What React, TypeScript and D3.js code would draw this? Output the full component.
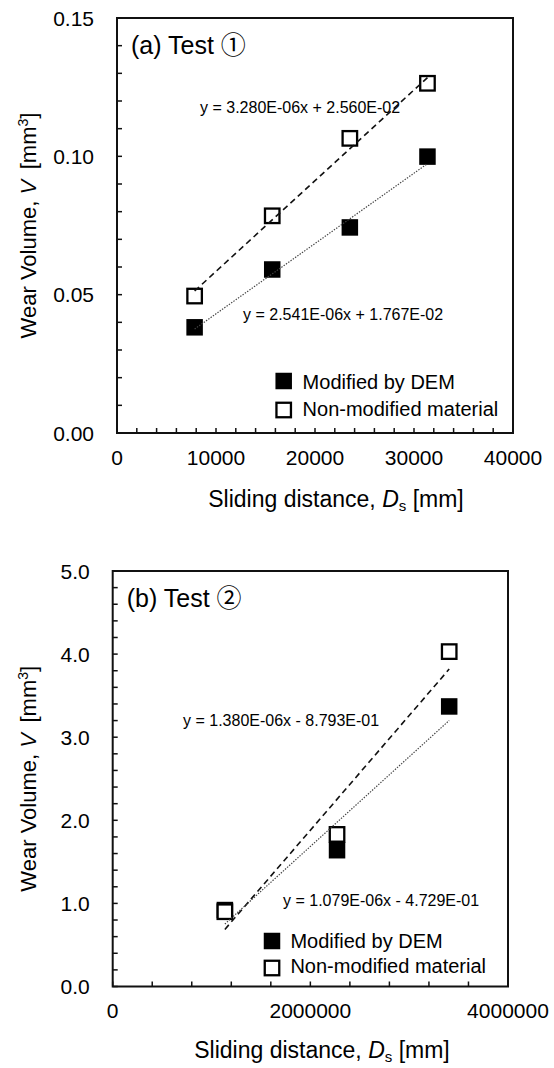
import React from 'react';
import * as d3 from 'd3';

// ---------- data ----------
const seriesNames = ['Modified by DEM', 'Non-modified material'];

// Panel (a) Test ①
const distanceA = [7840, 15680, 23520, 31360];
const modifiedA = [0.0382, 0.0591, 0.0743, 0.0999];
const nonModifiedA = [0.0495, 0.0785, 0.1065, 0.1264];
const fitModifiedA = [2.541e-6, 1.767e-2];
const fitNonModifiedA = [3.28e-6, 2.56e-2];
const eqModifiedA = 'y = 2.541E-06x + 1.767E-02';
const eqNonModifiedA = 'y = 3.280E-06x + 2.560E-02';
const xTicksA = [0, 10000, 20000, 30000, 40000];
const yTicksA = [0, 0.05, 0.1, 0.15];

// Panel (b) Test ②
const distanceB = [1135000, 2270000, 3405000];
const modifiedB = [0.92, 1.64, 3.37];
const nonModifiedB = [0.9, 1.83, 4.03];
const fitModifiedB = [1.079e-6, -4.729e-1];
const fitNonModifiedB = [1.38e-6, -8.793e-1];
const eqModifiedB = 'y = 1.079E-06x - 4.729E-01';
const eqNonModifiedB = 'y = 1.380E-06x - 8.793E-01';
const xTicksB = [0, 2000000, 4000000];
const yTicksB = [0, 1, 2, 3, 4, 5];

const FONT = "'Liberation Sans', Arial, 'Noto Sans CJK JP', sans-serif";

type PanelProps = {
  title: string;
  box: { left: number; right: number; top: number; bottom: number };
  xMax: number;
  yMax: number;
  xMinor: number;
  yMinor: number;
  xTicks: number[];
  yTicks: number[];
  yFmt: (v: number) => string;
  distance: number[];
  modified: number[];
  nonModified: number[];
  fitMod: number[];
  fitNon: number[];
  eqMod: string;
  eqNon: string;
  eqModPos: [number, number];
  eqNonPos: [number, number];
  legend: { x: number; textX: number; rows: [number, number]; textRows: [number, number] };
  xTitleX: number;
  xTitleOffset: number;
};

function Panel(p: PanelProps) {
  const { box } = p;
  const x = d3.scaleLinear().domain([0, p.xMax]).range([box.left, box.right]);
  const y = d3.scaleLinear().domain([0, p.yMax]).range([box.bottom, box.top]);
  const xMinorTicks = d3.range(0, p.xMax + p.xMinor / 2, p.xMinor);
  const yMinorTicks = d3.range(0, p.yMax + p.yMinor / 2, p.yMinor);
  const ext = d3.extent(p.distance) as [number, number];
  const line = d3
    .line<number>()
    .x((d) => x(d))
    .y((d) => y(d));
  const trendMod = line.y((d) => y(p.fitMod[0] * d + p.fitMod[1]))(ext) || '';
  const trendNon = line.y((d) => y(p.fitNon[0] * d + p.fitNon[1]))(ext) || '';
  const ms = 14.5;
  const tickLen = 5;
  const cy = (box.top + box.bottom) / 2;

  return (
    <g fontFamily={FONT} fill="#000">
      {/* plot frame */}
      <rect
        x={box.left}
        y={box.top}
        width={box.right - box.left}
        height={box.bottom - box.top}
        fill="none"
        stroke="#111"
        strokeWidth={2}
      />
      {/* ticks */}
      {yMinorTicks.map((t, i) => (
        <line key={'yt' + i} x1={box.left} x2={box.left + tickLen} y1={y(t)} y2={y(t)} stroke="#111" strokeWidth={1.5} />
      ))}
      {xMinorTicks.map((t, i) => (
        <line key={'xt' + i} x1={x(t)} x2={x(t)} y1={box.bottom} y2={box.bottom - tickLen} stroke="#111" strokeWidth={1.5} />
      ))}
      {/* tick labels */}
      {p.yTicks.map((t, i) => (
        <text key={'yl' + i} x={box.left - 23} y={y(t)} dy="0.36em" textAnchor="end" fontSize={21}>
          {p.yFmt(t)}
        </text>
      ))}
      {p.xTicks.map((t, i) => (
        <text key={'xl' + i} x={x(t)} y={box.bottom + 24} dy="0.36em" textAnchor="middle" fontSize={21}>
          {String(t)}
        </text>
      ))}
      {/* axis titles */}
      <text x={p.xTitleX} y={box.bottom + p.xTitleOffset} dy="0.36em" textAnchor="middle" fontSize={23}>
        Sliding distance,{' '}
        <tspan fontStyle="italic">D</tspan>
        <tspan fontSize={15} dy="4">s</tspan>
        <tspan dy="-4"> [mm]</tspan>
      </text>
      <text transform={`translate(28,${cy}) rotate(-90)`} dy="0.36em" textAnchor="middle" fontSize={22}>
        Wear Volume,{' '}
        <tspan fontStyle="italic">V</tspan>
        <tspan>{'\u2009 [mm'}</tspan>
        <tspan fontSize={14} dy="-8">3</tspan>
        <tspan dy="8">]</tspan>
      </text>
      {/* panel title */}
      <text x={box.left + 14} y={box.top + 27} dy="0.36em" fontSize={25}>
        {p.title}
      </text>
      {/* markers: modified first, non-modified on top */}
      {p.distance.map((d, i) => (
        <rect key={'m' + i} x={x(d) - ms / 2} y={y(p.modified[i]) - ms / 2} width={ms} height={ms} fill="#000" stroke="#000" strokeWidth={2} />
      ))}
      {p.distance.map((d, i) => (
        <rect key={'n' + i} x={x(d) - ms / 2} y={y(p.nonModified[i]) - ms / 2} width={ms} height={ms} fill="#fff" stroke="#000" strokeWidth={2.3} />
      ))}
      {/* trendlines */}
      <path d={trendNon} fill="none" stroke="#111" strokeWidth={1.6} strokeDasharray="6,4" />
      <path d={trendMod} fill="none" stroke="#444" strokeWidth={1.2} strokeDasharray="1.4,1.4" />
      {/* equations */}
      <text x={p.eqNonPos[0]} y={p.eqNonPos[1]} dy="0.36em" fontSize={16}>
        {p.eqNon}
      </text>
      <text x={p.eqModPos[0]} y={p.eqModPos[1]} dy="0.36em" fontSize={16}>
        {p.eqMod}
      </text>
      {/* legend */}
      <rect x={p.legend.x - ms / 2} y={p.legend.rows[0] - ms / 2} width={ms} height={ms} fill="#000" stroke="#000" strokeWidth={2} />
      <rect x={p.legend.x - ms / 2} y={p.legend.rows[1] - ms / 2} width={ms} height={ms} fill="#fff" stroke="#000" strokeWidth={2.3} />
      <text x={p.legend.textX} y={p.legend.textRows[0]} dy="0.36em" fontSize={20}>
        {seriesNames[0]}
      </text>
      <text x={p.legend.textX} y={p.legend.textRows[1]} dy="0.36em" fontSize={20}>
        {seriesNames[1]}
      </text>
    </g>
  );
}

export default function App() {
  return (
    <svg
      width={554}
      height={1068}
      style={{ position: 'absolute', left: 0, top: 0, background: '#fff' }}
    >
      <rect x={0} y={0} width={554} height={1068} fill="#fff" />
      <Panel
        title="(a) Test ①"
        box={{ left: 117, right: 513, top: 18, bottom: 433 }}
        xMax={40000}
        yMax={0.15}
        xMinor={2000}
        yMinor={0.01}
        xTicks={xTicksA}
        yTicks={yTicksA}
        yFmt={d3.format('.2f')}
        distance={distanceA}
        modified={modifiedA}
        nonModified={nonModifiedA}
        fitMod={fitModifiedA}
        fitNon={fitNonModifiedA}
        eqMod={eqModifiedA}
        eqNon={eqNonModifiedA}
        eqModPos={[243, 314.5]}
        eqNonPos={[200, 107.5]}
        legend={{ x: 283.7, textX: 302.6, rows: [381, 410], textRows: [381.5, 408.5] }}
        xTitleX={336}
        xTitleOffset={66}
      />
      <Panel
        title="(b) Test ②"
        box={{ left: 112.7, right: 508, top: 571, bottom: 986.5 }}
        xMax={4000000}
        yMax={5}
        xMinor={400000}
        yMinor={0.2}
        xTicks={xTicksB}
        yTicks={yTicksB}
        yFmt={d3.format('.1f')}
        distance={distanceB}
        modified={modifiedB}
        nonModified={nonModifiedB}
        fitMod={fitModifiedB}
        fitNon={fitNonModifiedB}
        eqMod={eqModifiedB}
        eqNon={eqNonModifiedB}
        eqModPos={[283, 900.5]}
        eqNonPos={[183, 720.3]}
        legend={{ x: 272, textX: 290.4, rows: [941, 968], textRows: [941, 966] }}
        xTitleX={322}
        xTitleOffset={63}
      />
    </svg>
  );
}
